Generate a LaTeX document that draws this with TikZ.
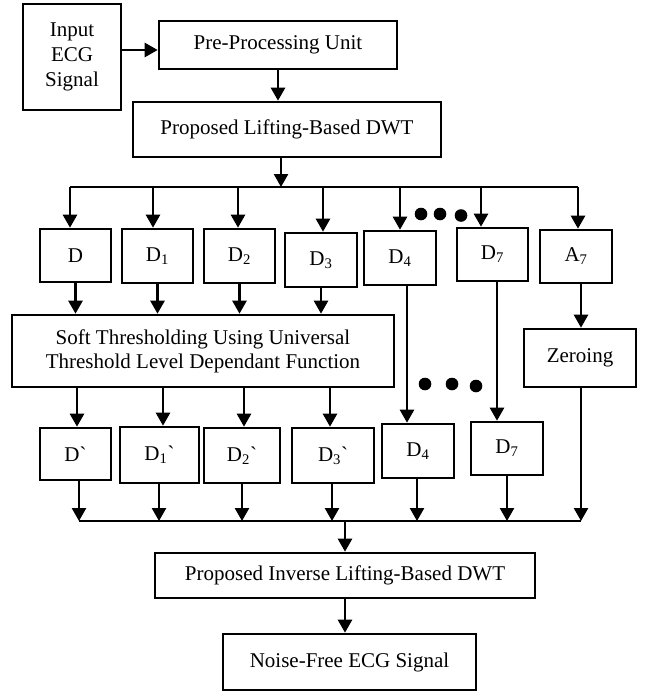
\documentclass[tikz,border=0pt]{standalone}
\usepackage{fontspec}
\setmainfont{Liberation Serif}
\newfontfamily\grfont[Ligatures=TeXOff]{Liberation Serif}
\usetikzlibrary{arrows.meta}
\newcommand{\gr}{{\grfont\char"60}}
\begin{document}
\begin{tikzpicture}[x=1pt,y=-1pt,
  box/.style={draw,line width=2.6pt,inner sep=0pt,align=center,font=\fontsize{21}{24}\selectfont},
  arr/.style={line width=2.5pt,-{Triangle[length=13pt,width=14pt]}},
  ln/.style={line width=2.5pt},
  dot/.style={fill=black,draw=none}]
\useasboundingbox (0,0) rectangle (654,693);
% boxes
\node[box,minimum width=98pt,minimum height=106pt,font=\fontsize{21}{25}\selectfont] (inp) at (72,57) {Input\\ECG\\Signal};
\node[box,minimum width=238pt,minimum height=48pt] (pre) at (278,45) {Pre-Processing Unit};
\node[box,minimum width=308pt,minimum height=55pt] (lift) at (287,129.5) {Proposed Lifting-Based DWT};
\node[box,minimum width=71pt,minimum height=53pt] (d0) at (75.5,255.5) {D};
\node[box,minimum width=71pt,minimum height=54pt] (d1) at (157.5,256) {D\textsubscript{1}};
\node[box,minimum width=71pt,minimum height=54pt] (d2) at (239.5,256) {D\textsubscript{2}};
\node[box,minimum width=72pt,minimum height=54pt] (d3) at (321,260) {D\textsubscript{3}};
\node[box,minimum width=72pt,minimum height=54pt] (d4) at (400,258) {D\textsubscript{4}};
\node[box,minimum width=71pt,minimum height=53pt] (d7) at (492.5,254.5) {D\textsubscript{7}};
\node[box,minimum width=72pt,minimum height=53pt] (a7) at (576,256.5) {A\textsubscript{7}};
\node[box,minimum width=382pt,minimum height=72pt] (soft) at (203,351) {Soft Thresholding Using Universal\\Threshold Level Dependant Function};
\node[box,minimum width=112pt,minimum height=58pt] (zero) at (580,358) {Zeroing};
\node[box,minimum width=71pt,minimum height=52pt] (p0) at (75.5,454) {D\gr};
\node[box,minimum width=79pt,minimum height=56pt] (p1) at (159.5,455) {D\textsubscript{1}\gr};
\node[box,minimum width=76pt,minimum height=55pt] (p2) at (242,455.5) {D\textsubscript{2}\gr};
\node[box,minimum width=82pt,minimum height=55pt] (p3) at (333,455.5) {D\textsubscript{3}\gr};
\node[box,minimum width=72pt,minimum height=54pt] (p4) at (418,451) {D\textsubscript{4}};
\node[box,minimum width=72pt,minimum height=53pt] (p7) at (507,448.5) {D\textsubscript{7}};
\node[box,minimum width=380pt,minimum height=45pt] (inv) at (345,575.5) {Proposed Inverse Lifting-Based DWT};
\node[box,minimum width=253pt,minimum height=56pt] (out) at (349.5,662) {Noise-Free ECG Signal};
% helper coordinates
\coordinate (ia) at (0,50);
\coordinate (la) at (281,0);
\coordinate (busL) at (70,187);
\coordinate (busR) at (578,187);
\coordinate (b0) at (70,187);
\coordinate (b1) at (153,187);
\coordinate (b2) at (238,187);
\coordinate (b3) at (323,187);
\coordinate (b4) at (400,187);
\coordinate (b7) at (481,187);
\coordinate (ba) at (578,187);
\coordinate (x4) at (407,0);
\coordinate (x7) at (497,0);
\coordinate (xa) at (581,0);
\coordinate (s0) at (77,0);
\coordinate (s1) at (163,0);
\coordinate (s2) at (244,0);
\coordinate (s3) at (330,0);
\coordinate (c0) at (79,521);
\coordinate (c1) at (159,521);
\coordinate (c2) at (242,521);
\coordinate (c3) at (332,521);
\coordinate (c4) at (417,521);
\coordinate (c7) at (507,521);
\coordinate (ca) at (581,521);
\coordinate (cm) at (345,521);
% top connectors
\draw[arr] (inp.east |- ia) -- (pre.west |- ia);
\draw[arr] (pre.south) -- (pre.south |- lift.north);
\draw[arr] (lift.south -| la) -- (la |- busL);
\draw[ln] (busL) -- (busR);
\foreach \b/\n in {b0/d0,b1/d1,b2/d2,b3/d3,b4/d4,b7/d7,ba/a7}
  \draw[arr] (\b) -- (\b |- \n.north);
\fill[dot] (421,214) circle (6.3pt) (440,214) circle (6.3pt) (461,215.5) circle (6.3pt);
% to soft thresholding
\foreach \n in {d0,d1,d2,d3}
  \draw[arr] (\n.south) -- (\n.south |- soft.north);
\draw[arr] (d4.south -| x4) -- (x4 |- p4.north);
\draw[arr] (d7.south -| x7) -- (x7 |- p7.north);
\draw[arr] (a7.south -| xa) -- (xa |- zero.north);
\fill[dot] (425,384) circle (6.3pt) (452,384) circle (6.3pt) (476,386) circle (6.3pt);
\foreach \s/\n in {s0/p0,s1/p1,s2/p2,s3/p3}
  \draw[arr] (soft.south -| \s) -- (\s |- \n.north);
% bottom bus
\foreach \c/\n in {c0/p0,c1/p1,c2/p2,c3/p3,c4/p4,c7/p7}
  \draw[arr] (\n.south -| \c) -- (\c);
\draw[arr] (zero.south -| ca) -- (ca);
\draw[ln] (c0) -- (ca);
\draw[arr] (cm) -- (cm |- inv.north);
\draw[arr] (inv.south) -- (inv.south |- out.north);
\end{tikzpicture}
\end{document}
